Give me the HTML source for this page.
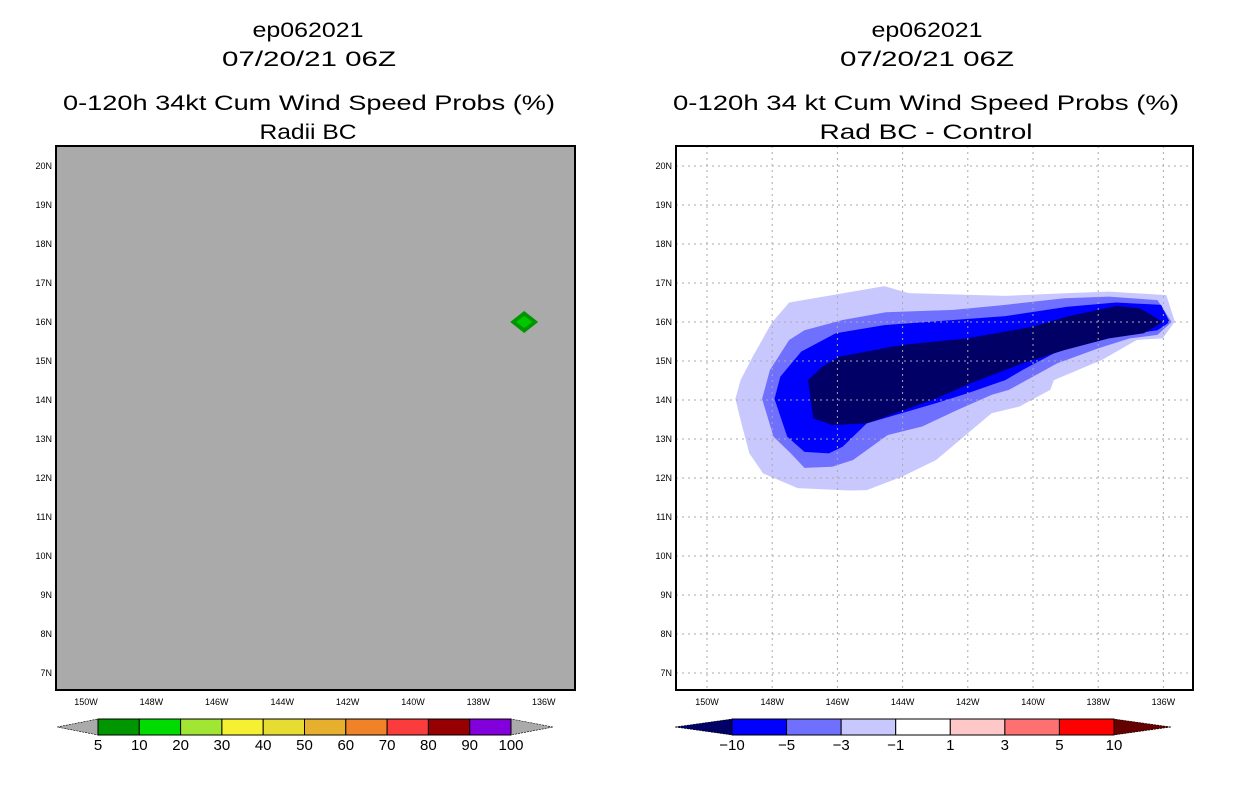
<!DOCTYPE html>
<html><head><meta charset="utf-8"><style>
body{margin:0;background:#fff;}
svg{display:block;font-family:"Liberation Sans",sans-serif;}
</style></head><body>
<svg width="1236" height="800" viewBox="0 0 1236 800">
<g id="titles" font-size="21" text-anchor="middle" fill="#000" lengthAdjust="spacingAndGlyphs">
<text x="308" y="37" textLength="111" lengthAdjust="spacingAndGlyphs">ep062021</text>
<text x="309" y="66" textLength="174" lengthAdjust="spacingAndGlyphs">07/20/21 06Z</text>
<text x="309" y="110" textLength="492" lengthAdjust="spacingAndGlyphs">0-120h 34kt Cum Wind Speed Probs (%)</text>
<text x="308" y="139" textLength="97" lengthAdjust="spacingAndGlyphs">Radii BC</text>
<text x="927" y="37" textLength="111" lengthAdjust="spacingAndGlyphs">ep062021</text>
<text x="927" y="66" textLength="174" lengthAdjust="spacingAndGlyphs">07/20/21 06Z</text>
<text x="926" y="110" textLength="506" lengthAdjust="spacingAndGlyphs">0-120h 34 kt Cum Wind Speed Probs (%)</text>
<text x="926" y="139" textLength="213" lengthAdjust="spacingAndGlyphs">Rad BC - Control</text>
</g>
<g id="left"></g>
<g id="right"></g>
</svg>
<script>
const latTicks=[20,19,18,17,16,15,14,13,12,11,10,9,8,7];
const lonTicks=[150,148,146,144,142,140,138,136];
const probCenter=[-136.6,16.0];
const probLevels=['5','10','20','30','40','50','60','70','80','90','100'];
const probColors=['#009600','#00dc00','#a0e632','#f5f032','#e6dc32','#e6af2d','#f08228','#fa3c3c','#960000','#8200dc'];
const diffLevels=['-10','-5','-3','-1','1','3','5','10'];
const diffColors=['#0000ff','#7070ff','#c8c8ff','#ffffff','#ffc8c8','#ff7070','#ff0000'];
const diffOuter=[[-149.13,14.03],[-148.97,14.51],[-148.6,15.11],[-148.02,15.97],[-147.48,16.5],[-146.16,16.69],[-144.56,16.92],[-143.82,16.74],[-140.85,16.67],[-138.94,16.74],[-137.67,16.78],[-135.91,16.69],[-135.65,16.01],[-136.02,15.58],[-136.82,15.54],[-137.88,15.03],[-139.36,14.51],[-139.47,14.26],[-140.42,13.83],[-141.27,13.66],[-142.12,13.06],[-142.97,12.46],[-144.03,12.03],[-145.1,11.69],[-145.63,11.68],[-147.22,11.74],[-148.28,12.12],[-148.7,12.63],[-148.92,13.32]];
const diffMid=[[-148.31,14.03],[-148.07,14.77],[-147.48,15.54],[-147.01,15.79],[-145.84,16.05],[-144.51,16.25],[-142.44,16.31],[-140.85,16.44],[-139.04,16.61],[-137.67,16.65],[-136.18,16.56],[-135.75,16.0],[-136.18,15.67],[-137.03,15.58],[-137.98,15.33],[-139.26,14.94],[-140,14.6],[-140.74,14.26],[-141.27,14.13],[-142.33,13.74],[-143.4,13.32],[-144.46,13.1],[-145.52,12.46],[-146.16,12.29],[-147.01,12.26],[-147.43,12.63],[-147.96,13.06]];
const diffBlue=[[-147.93,14.03],[-147.75,14.6],[-147.11,15.24],[-146.05,15.71],[-144.56,15.92],[-142.44,16.05],[-140.85,16.15],[-138.94,16.39],[-137.45,16.5],[-136.07,16.44],[-135.81,16.0],[-136.18,15.79],[-136.82,15.71],[-137.98,15.58],[-139.26,15.24],[-140.32,14.77],[-140.85,14.51],[-142.02,14.17],[-142.97,13.92],[-144.03,13.66],[-145.1,13.4],[-145.84,12.8],[-146.26,12.63],[-147.01,12.67],[-147.54,13.06]];
const diffDark=[[-146.9,14.51],[-146.47,14.85],[-145.95,15.11],[-144.03,15.41],[-142.02,15.58],[-140,15.88],[-138.94,16.14],[-137.45,16.41],[-136.71,16.35],[-136.02,16.0],[-136.6,15.71],[-137.67,15.58],[-139.04,15.28],[-140.32,14.94],[-141.91,14.43],[-142.97,14.04],[-144.03,13.72],[-145.1,13.4],[-146.16,13.36],[-146.74,13.53]];

const NS='http://www.w3.org/2000/svg';
function mk(parent,tag,attrs){const e=document.createElementNS(NS,tag);for(const k in attrs)e.setAttribute(k,attrs[k]);parent.appendChild(e);return e;}
function panel(gid,x0,x1,lon150x,pxPerDeg,bg,prefix){
 const g=document.getElementById(gid);
 const sx=lon=>lon150x+(lon+150)*pxPerDeg;
 const sy=lat=>322-(lat-16)*39;
 const bgR=mk(g,'rect',{x:x0,y:146,width:x1-x0,height:544,fill:bg});
 
 
 const body=mk(g,'g',{});
 const clipId=prefix+'clip';
 const cp=mk(g,'clipPath',{id:clipId});mk(cp,'rect',{x:x0,y:146,width:x1-x0,height:544});
 body.setAttribute('clip-path','url(#'+clipId+')');
 latTicks.forEach(l=>{
  const t=mk(g,'text',{x:x0-4,y:sy(l)+3,'font-size':9,'text-anchor':'end'});t.textContent=l+'N';
  
  
 });
 lonTicks.forEach(l=>{
  const t=mk(g,'text',{x:sx(-l),y:705,'font-size':9,'text-anchor':'middle'});t.textContent=l+'W';
  
  
 });
 return {g,body,sx,sy,x0,x1};
}
function frame(p,prefix){
 const fr=mk(p.g,'rect',{x:p.x0,y:146,width:p.x1-p.x0,height:544,fill:'none',stroke:'#000','stroke-width':2});
 
 
}
function poly(p,pts,fill,name){
 const e=mk(p.body,'polygon',{points:pts.map(q=>p.sx(q[0])+','+p.sy(q[1])).join(' '),fill:fill});
 
 
}
// left
const L=panel('left',56,575,86,32.7,'#aaaaaa','left');
const cx=L.sx(probCenter[0]),cy=L.sy(probCenter[1]);
const d1=mk(L.body,'polygon',{points:`${cx-14},${cy} ${cx},${cy-11} ${cx+14},${cy} ${cx},${cy+11}`,fill:'#009600'});


const d2=mk(L.body,'polygon',{points:`${cx-8},${cy} ${cx},${cy-6} ${cx+8},${cy} ${cx},${cy+6}`,fill:'#00c800'});


frame(L,'left');
// right
const R=panel('right',676,1193,707,32.6,'#ffffff','right');
poly(R,diffOuter,'#c8c8ff','diff-minus1-area');
poly(R,diffMid,'#7070ff','diff-minus3-area');
poly(R,diffBlue,'#0000ff','diff-minus5-area');
poly(R,diffDark,'#000066','diff-minus10-area');
latTicks.forEach(l=>{const e=mk(R.body,'line',{x1:676,x2:1193,y1:R.sy(l),y2:R.sy(l),stroke:'#aaaaaa','stroke-dasharray':'2,4'});
 });
lonTicks.forEach(l=>{const e=mk(R.body,'line',{x1:R.sx(-l),x2:R.sx(-l),y1:146,y2:690,stroke:'#aaaaaa','stroke-dasharray':'2,4'});
 });
frame(R,'right');
// colorbars
function colorbar(gid,xl,xs,xe,xr,colors,labels,lcol,rcol,prefix){
 const g=document.getElementById(gid);
 const y0=719,y1=735,ym=727,n=colors.length,w=(xe-xs)/n;
 const lt=mk(g,'polygon',{points:`${xl},${ym} ${xs},${y0} ${xs},${y1}`,fill:lcol,stroke:'#000','stroke-width':0.6,'stroke-dasharray':'2,1'});
 
 const rt=mk(g,'polygon',{points:`${xr},${ym} ${xe},${y0} ${xe},${y1}`,fill:rcol,stroke:'#000','stroke-width':0.6,'stroke-dasharray':'2,1'});
 
 colors.forEach((c,i)=>{const r=mk(g,'rect',{x:xs+i*w,y:y0,width:w,height:y1-y0,fill:c,stroke:'#000','stroke-width':1});
  });
 labels.forEach((t,i)=>{const e=mk(g,'text',{x:xs+i*w,y:750,'font-size':15,'text-anchor':'middle'});e.textContent=t.replace('-','\u2212');
  });
}
colorbar('left',57,98,511,553,probColors,probLevels,'#aaaaaa','#aaaaaa','left');
colorbar('right',675,732,1114,1171,diffColors,diffLevels,'#000066','#660000','right');
</script>
</body></html>
